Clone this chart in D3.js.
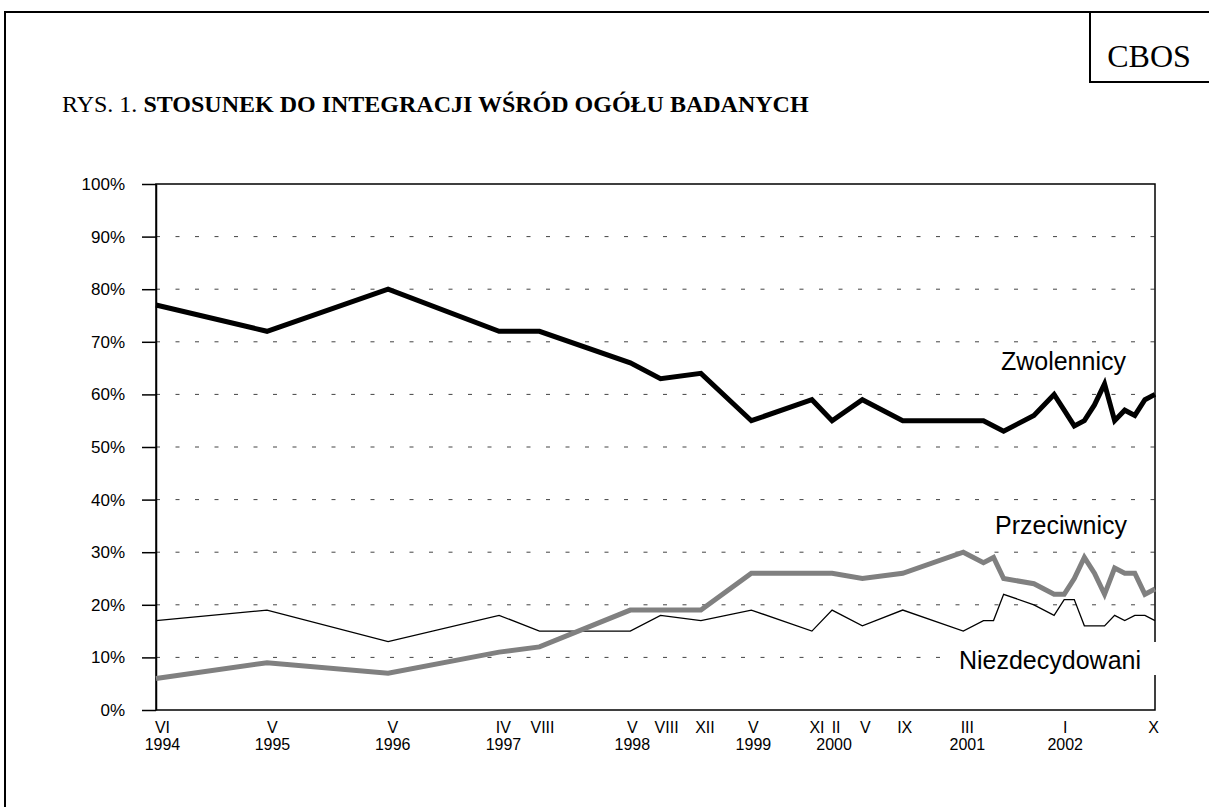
<!DOCTYPE html>
<html>
<head>
<meta charset="utf-8">
<script src="https://cdn.jsdelivr.net/npm/d3@7"></script>
<style>
  body { margin: 0; background: #fff; }
  svg { display: block; }
</style>
</head>
<body>
<svg id="chart" width="1209" height="807"></svg>
<script>
// survey points, months counted from VI 1994
const months = [0, 11, 23, 34, 38, 47, 50, 54, 59, 65, 67, 70, 74, 80, 82, 83, 84, 87, 89, 90, 91, 92, 93, 94, 95, 96, 97, 98, 99];
const zwolennicy = [77, 72, 80, 72, 72, 66, 63, 64, 55, 59, 55, 59, 55, 55, 55, 54, 53, 56, 60, 57, 54, 55, 58, 62, 55, 57, 56, 59, 60];
const przeciwnicy = [6, 9, 7, 11, 12, 19, 19, 19, 26, 26, 26, 25, 26, 30, 28, 29, 25, 24, 22, 22, 25, 29, 26, 22, 27, 26, 26, 22, 23];
const niezdecydowani = [17, 19, 13, 18, 15, 15, 18, 17, 19, 15, 19, 16, 19, 15, 17, 17, 22, 20, 18, 21, 21, 16, 16, 16, 18, 17, 18, 18, 17];

// x axis labels (month position, roman month, year)
const tickMonths = [0.64, 11.54, 23.46, 34.43, 38.3, 47.2, 50.6, 54.4, 59.2, 65.5, 67.4, 70.3, 74.2, 80.4, 90.1, 98.85];
const tickRoman = ['VI', 'V', 'V', 'IV', 'VIII', 'V', 'VIII', 'XII', 'V', 'XI', 'II', 'V', 'IX', 'III', 'I', 'X'];
const yearMonths = [0.64, 11.54, 23.46, 34.43, 47.2, 59.2, 67.2, 80.4, 90.1];
const yearLabels = ['1994', '1995', '1996', '1997', '1998', '1999', '2000', '2001', '2002'];
const yTicks = [0, 10, 20, 30, 40, 50, 60, 70, 80, 90, 100];

const svg = d3.select('svg#chart');
const margin = { top: 184, right: 54, bottom: 97, left: 156 };
const width = 1209, height = 807;

const x = d3.scaleLinear().domain([0, 99]).range([margin.left, width - margin.right]);
const y = d3.scaleLinear().domain([0, 100]).range([height - margin.bottom, margin.top]);

// page frame and CBOS box
svg.append('path')
    .attr('d', 'M5,807V12H1209')
    .attr('fill', 'none').attr('stroke', '#000').attr('stroke-width', 2);
svg.append('path')
    .attr('d', 'M1090,12V82H1209')
    .attr('fill', 'none').attr('stroke', '#000').attr('stroke-width', 2);
svg.append('text')
    .attr('x', 1149).attr('y', 67)
    .attr('text-anchor', 'middle')
    .style('font', '32px "Liberation Serif", serif')
    .text('CBOS');

// title
const title = svg.append('text')
    .attr('x', 62).attr('y', 112)
    .style('font', '24px "Liberation Serif", serif');
title.append('tspan').text('RYS. 1. ');
title.append('tspan').attr('font-weight', 'bold').text('STOSUNEK DO INTEGRACJI WŚRÓD OGÓŁU BADANYCH');

// dashed grid lines
svg.append('g')
    .selectAll('line')
    .data(yTicks.filter(d => d > 0 && d < 100))
    .join('line')
    .attr('x1', x(0)).attr('x2', x(99))
    .attr('y1', d => y(d)).attr('y2', d => y(d))
    .attr('stroke', '#444')
    .attr('stroke-width', 1)
    .attr('stroke-dasharray', '4,15.5');

// plot frame
svg.append('rect')
    .attr('x', x(0)).attr('y', y(100))
    .attr('width', x(99) - x(0)).attr('height', y(0) - y(100))
    .attr('fill', 'none').attr('stroke', '#000').attr('stroke-width', 1.5);

// y axis
svg.append('g')
    .attr('transform', `translate(${margin.left},0)`)
    .call(d3.axisLeft(y).tickValues(yTicks).tickSize(14).tickSizeOuter(0).tickPadding(17).tickFormat(d => `${d}%`))
    .call(g => g.select('.domain').attr('stroke-width', 1.5))
    .call(g => g.selectAll('.tick line').attr('stroke-width', 1.5))
    .call(g => g.selectAll('text').style('font', '17px "Liberation Sans", Arial, sans-serif').attr('fill', '#000'));

// x labels
svg.append('g').selectAll('text')
    .data(tickMonths)
    .join('text')
    .attr('x', d => x(d)).attr('y', 733)
    .attr('text-anchor', 'middle')
    .style('font', '16px "Liberation Sans", Arial, sans-serif')
    .text((d, i) => tickRoman[i]);
svg.append('g').selectAll('text')
    .data(yearMonths)
    .join('text')
    .attr('x', d => x(d)).attr('y', 750)
    .attr('text-anchor', 'middle')
    .style('font', '16px "Liberation Sans", Arial, sans-serif')
    .text((d, i) => yearLabels[i]);

// series
const series = [
    { name: 'Niezdecydowani', values: niezdecydowani, color: '#000', width: 1.3 },
    { name: 'Przeciwnicy', values: przeciwnicy, color: '#808080', width: 5 },
    { name: 'Zwolennicy', values: zwolennicy, color: '#000', width: 5 },
];
const line = d3.line().x(d => x(d.m)).y(d => y(d.v));
svg.append('g').selectAll('path')
    .data(series)
    .join('path')
    .attr('fill', 'none')
    .attr('stroke', d => d.color)
    .attr('stroke-width', d => d.width)
    .attr('stroke-linejoin', 'miter')
    .attr('d', d => line(months.map((m, i) => ({ m, v: d.values[i] }))));

// series labels
svg.append('rect')
    .attr('x', 945).attr('y', 642).attr('width', 212).attr('height', 33)
    .attr('fill', '#fff');
const labelFont = '25px "Liberation Sans", Arial, sans-serif';
svg.append('text').attr('x', 1126).attr('y', 370).attr('text-anchor', 'end')
    .style('font', labelFont).text('Zwolennicy');
svg.append('text').attr('x', 1127).attr('y', 534).attr('text-anchor', 'end')
    .style('font', labelFont).text('Przeciwnicy');
svg.append('text').attr('x', 1141).attr('y', 669).attr('text-anchor', 'end')
    .style('font', labelFont).text('Niezdecydowani');
</script>
</body>
</html>
